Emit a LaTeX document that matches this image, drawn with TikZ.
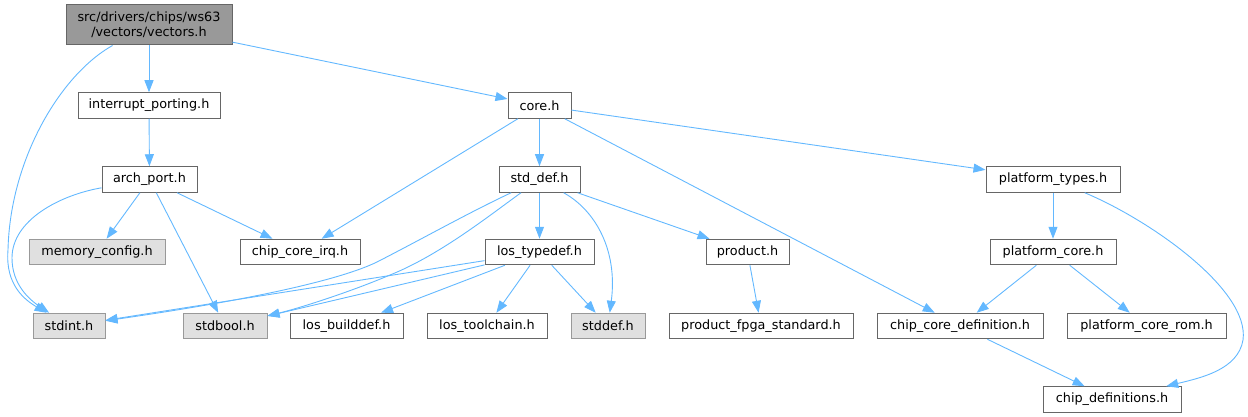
\documentclass[tikz,border=0pt]{standalone}
\usepackage{fontspec}
\setmainfont{DejaVu Sans}
\usetikzlibrary{arrows.meta}
\definecolor{edgeblue}{HTML}{63B8FF}
\definecolor{boxborder}{HTML}{666666}
\definecolor{grayborder}{HTML}{999999}
\definecolor{grayfill}{HTML}{E0E0E0}
\definecolor{vecfill}{HTML}{999999}
\definecolor{vecborder}{HTML}{666666}
\begin{document}
\begin{tikzpicture}[x=1pt,y=-1pt,
  box/.style={draw=boxborder, fill=white, line width=1pt, minimum height=25.5pt, inner sep=0pt,
    font=\fontsize{12.8}{15}\selectfont, text=black},
  graybox/.style={box, draw=grayborder, fill=grayfill},
  link/.style={draw=edgeblue, line width=0.9pt, -{Triangle[length=12pt,width=9pt]}}
]
\useasboundingbox (0,0) rectangle (1248,417);

\node[box, fill=vecfill, draw=vecborder, minimum width=166pt, minimum height=40pt, align=center] (vec) at (149,25) {src/drivers/chips/ws63\\/vectors/vectors.h};
\node[box, minimum width=142pt] (ip) at (149,105.5) {interrupt\_porting.h};
\node[box, minimum width=95pt] (arch) at (149.5,179.5) {arch\_port.h};
\node[graybox, minimum width=136pt] (mem) at (97,252) {memory\_config.h};
\node[box, minimum width=120pt] (irq) at (300,252) {chip\_core\_irq.h};
\node[graybox, minimum width=72pt] (stdint) at (69,326) {stdint.h};
\node[graybox, minimum width=84pt] (stdbool) at (225,326) {stdbool.h};
\node[box, minimum width=113pt] (builddef) at (346.5,326) {los\_builddef.h};
\node[box, minimum width=63pt] (core) at (539.5,105.5) {core.h};
\node[box, minimum width=81pt] (stddefh) at (539.5,179.5) {std\_def.h};
\node[box, minimum width=109pt] (typedef) at (539.5,252) {los\_typedef.h};
\node[box, minimum width=83pt] (product) at (747.5,252) {product.h};
\node[box, minimum width=120pt] (toolchain) at (487,326) {los\_toolchain.h};
\node[graybox, minimum width=74pt] (stddef) at (608,326) {stddef.h};
\node[box, minimum width=184pt] (fpga) at (761,326) {product\_fpga\_standard.h};
\node[box, minimum width=134pt] (ptypes) at (1053,179.5) {platform\_types.h};
\node[box, minimum width=126pt] (pcore) at (1053,252) {platform\_core.h};
\node[box, minimum width=166pt] (ccdef) at (960,326) {chip\_core\_definition.h};
\node[box, minimum width=159pt] (pcrom) at (1146.5,326) {platform\_core\_rom.h};
\node[box, minimum width=138pt] (cdefs) at (1112,399.5) {chip\_definitions.h};

% straight connectors
\draw[link] (vec) -- (ip);
\draw[link] (vec) -- (core);
\draw[link] (ip) -- (arch);
\draw[link] (arch) -- (mem);
\draw[link] (arch) -- (stdbool);
\draw[link] (arch) -- (irq);
\draw[link] (core) -- (irq);
\draw[link] (core) -- (stddefh);
\draw[link] (core) -- (ccdef);
\draw[link] (core) -- (ptypes);
\draw[link] (stddefh) -- (typedef);
\draw[link] (stddefh) -- (product);
\draw[link] (typedef) -- (stdint);
\draw[link] (typedef) -- (stdbool);
\draw[link] (typedef) -- (builddef);
\draw[link] (typedef) -- (toolchain);
\draw[link] (typedef) -- (stddef);
\draw[link] (product) -- (fpga);
\draw[link] (ptypes) -- (pcore);
\draw[link] (pcore) -- (ccdef);
\draw[link] (pcore) -- (pcrom);
\draw[link] (ccdef) -- (cdefs);

% curved connectors
\draw[link] (vec) .. controls (60,75) and (10,160) .. (8,250) .. controls (5,285) and (25,300) .. (stdint);
\draw[link] (arch) .. controls (60,195) and (12,220) .. (12,258) .. controls (12,285) and (30,300) .. (stdint);
\draw[link] (stddefh) .. controls (470,212) and (420,240) .. (377,262) .. controls (340,280) and (250,300) .. (stdint);
\draw[link] (stddefh) .. controls (490,215) and (440,255) .. (390,275) .. controls (350,292) and (300,308) .. (stdbool);
\draw[link] (stddefh) .. controls (595,210) and (618,250) .. (stddef);
\draw[link] (ptypes) .. controls (1150,220) and (1250,290) .. (1243,340) .. controls (1238,370) and (1200,378) .. (cdefs);
\end{tikzpicture}
\end{document}
